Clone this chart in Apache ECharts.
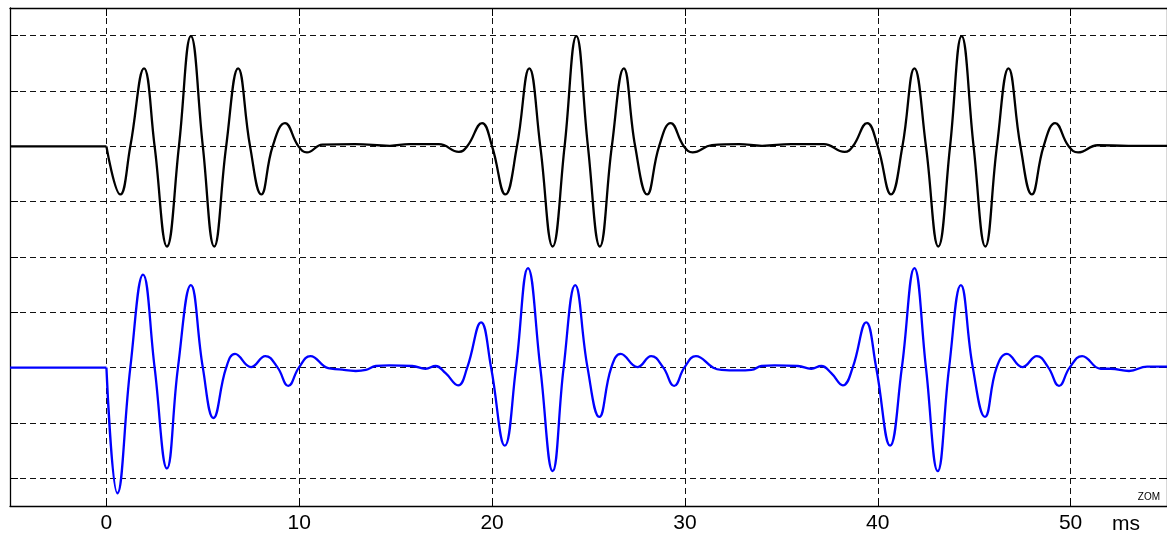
<!DOCTYPE html>
<html><head><meta charset="utf-8">
<script src="https://cdn.jsdelivr.net/npm/echarts@6/dist/echarts.min.js"></script>
<style>html,body{margin:0;padding:0;background:#fff}#c{width:1167px;height:535px}</style>
</head><body><div id="c"></div>
<script>
// x tick labels (ms)
const xTickLabels = ['0', '10', '20', '30', '40', '50'];
const xUnit = 'ms';
const logoText = 'ZOM';

// Black trace: flat lead-in, then bursts (time ms, value)
const blackLead = [[-5, 0], [0, 0]];
const blackWave = [
  [0, 0], [0.72, -0.87], [1.24, 0], [1.95, 1.41], [2.50, 0], [3.14, -1.81], [3.76, 0], [4.38, 1.99],
  [5.0, 0], [5.59, -1.81], [6.21, 0], [6.83, 1.41], [7.45, 0], [8.03, -0.87], [8.62, 0], [9.26, 0.42],
  [9.96, 0], [10.40, -0.11], [11.2, 0.03], [12.9, 0.04], [14.7, 0.01], [15.7, 0.04], [17.24, 0.04],
  [18.28, -0.10], [18.71, 0], [19.48, 0.42], [20.0, 0], [20.69, -0.87], [21.29, 0], [21.93, 1.41],
  [22.5, 0], [23.14, -1.81], [23.76, 0], [24.37, 1.99], [24.97, 0], [25.59, -1.81], [26.21, 0],
  [26.83, 1.41], [27.42, 0], [28.04, -0.87], [28.66, 0], [29.26, 0.42], [29.95, 0], [30.40, -0.11],
  [31.4, 0.02], [32.8, 0.04], [34.0, 0.01], [35.5, 0.04], [37.2, 0.04], [38.28, -0.10], [38.71, 0],
  [39.45, 0.42], [40.0, 0], [40.69, -0.87], [41.28, 0], [41.9, 1.41], [42.5, 0], [43.14, -1.81],
  [43.75, 0], [44.35, 1.99], [44.97, 0], [45.58, -1.81], [46.18, 0], [46.78, 1.41], [47.4, 0],
  [47.99, -0.87], [48.6, 0], [49.2, 0.42], [49.9, 0], [50.39, -0.11], [51.4, 0.02], [53.0, 0.01], [55, 0.01]
];

// Blue trace (drawn around -4): flat lead-in, then response
const blueLead = [[-5, -4], [0, -4]];
const blueWave = [
  [0, -4], [0.57, -6.27], [1.24, -4], [1.90, -2.32], [2.50, -4], [3.14, -5.82], [3.71, -4], [4.38, -2.51],
  [5.0, -4], [5.55, -4.91], [6.21, -4], [6.67, -3.75], [7.50, -3.99], [8.24, -3.79], [8.88, -4],
  [9.43, -4.33], [9.98, -4], [10.58, -3.79], [11.5, -4.01], [12.07, -4.03], [12.93, -4.06], [13.45, -4.04],
  [13.97, -3.97], [14.66, -3.96], [15.86, -3.97], [16.55, -4.02], [17.07, -3.97], [17.59, -4.10],
  [18.24, -4.32], [18.71, -4], [19.43, -3.18], [19.95, -4], [20.66, -5.41], [21.24, -4], [21.86, -2.20],
  [22.5, -4], [23.14, -5.87], [23.71, -4], [24.31, -2.51], [24.95, -4], [25.56, -4.89], [26.18, -4],
  [26.67, -3.75], [27.54, -3.99], [28.25, -3.79], [28.88, -4], [29.44, -4.33], [29.97, -4], [30.57, -3.79],
  [31.47, -4], [31.9, -4.04], [32.76, -4.05], [33.45, -4.04], [33.97, -3.97], [34.66, -3.96], [35.86, -3.97],
  [36.55, -4.02], [37.07, -3.97], [37.59, -4.10], [38.19, -4.32], [38.70, -4], [39.40, -3.18], [39.92, -4],
  [40.64, -5.41], [41.25, -4], [41.90, -2.20], [42.5, -4], [43.11, -5.87], [43.70, -4], [44.31, -2.51],
  [44.93, -4], [45.56, -4.89], [46.16, -4], [46.70, -3.75], [47.50, -3.99], [48.25, -3.79], [48.85, -4],
  [49.40, -4.33], [49.95, -4], [50.60, -3.79], [51.56, -4.02], [52.08, -4.02], [53.03, -4.06],
  [53.97, -3.98], [55, -3.98]
];

const FONT = "'Liberation Sans', Arial, sans-serif";
const gridDash = { type: [6, 4], color: '#111', width: 1 };
const frame = { show: true, onZero: false, lineStyle: { color: '#000', width: 1.3 } };
const LW = 2.3;
const SMOOTH = 0.45;

const chart = echarts.init(document.getElementById('c'), null, { renderer: 'canvas' });
chart.setOption({
  animation: false,
  backgroundColor: '#fff',
  grid: { left: 10, top: 8, right: -3, bottom: 27, containLabel: false },
  xAxis: [
    {
      type: 'value', min: -5, max: 55, minInterval: 10, maxInterval: 10, position: 'bottom',
      axisLine: frame,
      axisTick: { show: true, inside: true, length: 8, lineStyle: { color: '#000' } },
      axisLabel: {
        show: true, margin: 7, fontSize: 21, color: '#000', fontFamily: FONT,
        showMinLabel: false, showMaxLabel: false,
        formatter: v => xTickLabels.includes(String(v)) ? String(v) : ''
      },
      splitLine: { show: true, showMinLine: false, showMaxLine: false, lineStyle: gridDash },
      name: xUnit, nameLocation: 'end', nameGap: -55,
      nameTextStyle: { fontSize: 21, color: '#000', fontFamily: FONT, verticalAlign: 'top', padding: [8, 0, 0, 0] }
    },
    {
      type: 'value', min: -5, max: 55, minInterval: 10, maxInterval: 10, position: 'top',
      axisLine: frame,
      axisTick: { show: true, inside: true, length: 8, lineStyle: { color: '#000' } },
      axisLabel: { show: false }, splitLine: { show: false }
    }
  ],
  yAxis: [
    {
      type: 'value', min: -6.5, max: 2.5, minInterval: 1, maxInterval: 1, position: 'left',
      axisLine: frame,
      axisTick: { show: true, inside: true, length: 8, lineStyle: { color: '#000' } },
      axisLabel: { show: false },
      splitLine: { show: true, showMinLine: false, showMaxLine: false, lineStyle: gridDash }
    },
    {
      type: 'value', min: -6.5, max: 2.5, minInterval: 1, maxInterval: 1, position: 'right',
      axisLine: frame,
      axisTick: { show: true, inside: true, length: 8, lineStyle: { color: '#000' } },
      axisLabel: { show: false }, splitLine: { show: false }
    }
  ],
  graphic: [{
    type: 'text', right: 7, bottom: 33,
    style: { text: logoText, fontSize: 10, fill: '#000', fontFamily: FONT }
  }],
  series: [
    { type: 'line', data: blackLead, symbol: 'none', smooth: false, lineStyle: { color: '#000', width: LW }, z: 3 },
    { type: 'line', data: blackWave, symbol: 'none', smooth: SMOOTH, lineStyle: { color: '#000', width: LW }, z: 3 },
    { type: 'line', data: blueLead, symbol: 'none', smooth: false, lineStyle: { color: '#0000ff', width: LW }, z: 3 },
    { type: 'line', data: blueWave, symbol: 'none', smooth: SMOOTH, lineStyle: { color: '#0000ff', width: LW }, z: 3 }
  ]
});
</script>
</body></html>
